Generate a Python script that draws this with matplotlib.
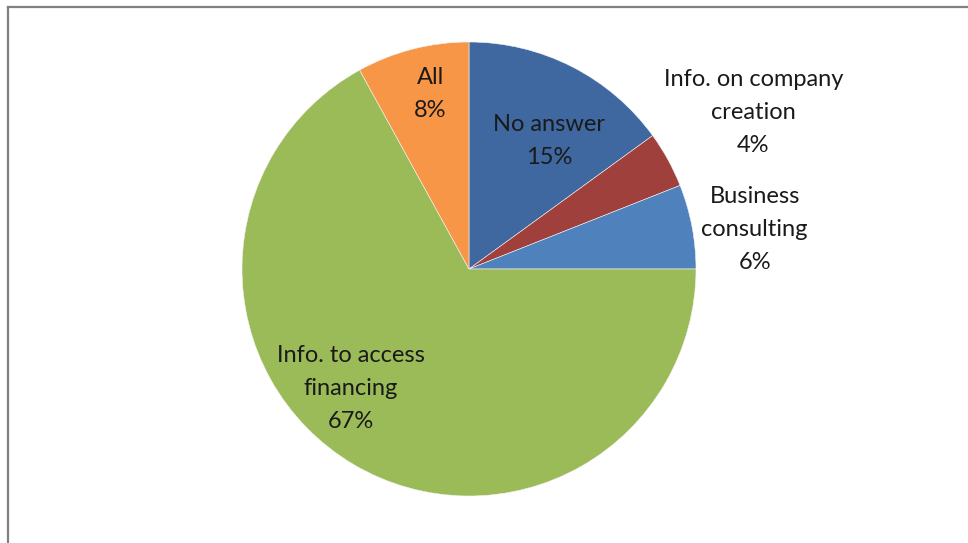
import numpy as np
import matplotlib.pyplot as plt
from matplotlib.lines import Line2D

labels = ["No answer", "Info. on company\ncreation", "Business\nconsulting",
          "Info. to access\nfinancing", "All"]
shares = [15, 4, 6, 67, 8]
colors = ["#3F67A0", "#A0403D", "#4F81BD", "#9BBB59", "#F79646"]

# where each label sits: distance from centre (in radii) and angular nudge (deg)
label_r = [0.665, 1.43, 1.27, 0.74, 0.79]
label_nudge = [-5, 0, -3, -14, -2]

fig = plt.figure(figsize=(9.68, 5.43), dpi=100)
W, H = 968, 543
cx, cy, R = 469, 269, 227
ax = fig.add_axes([(cx - R) / W, (H - cy - R) / H, 2 * R / W, 2 * R / H])

wedges, _ = ax.pie(shares, colors=colors, startangle=90, counterclock=False,
                   radius=1, wedgeprops=dict(edgecolor="#f4f4f4", linewidth=0.4))
ax.set_xlim(-1, 1)
ax.set_ylim(-1, 1)
ax.axis("off")

for w, lab, val, r, nudge in zip(wedges, labels, shares, label_r, label_nudge):
    mid = np.deg2rad((w.theta1 + w.theta2) / 2 + nudge)
    ax.text(r * np.cos(mid), r * np.sin(mid), f"{lab}\n{val}%",
            ha="center", va="center", fontsize=17, family="Lato",
            color="#1a1a1a", linespacing=1.7)

# frame around the chart area
fig.add_artist(Line2D([8 / W, 8 / W], [0, 1 - 7 / H], transform=fig.transFigure,
                      color="#808080", linewidth=1.6))
fig.add_artist(Line2D([8 / W, 1], [1 - 7 / H, 1 - 7 / H], transform=fig.transFigure,
                      color="#808080", linewidth=1.6))

fig.savefig("out.png", dpi=100)
